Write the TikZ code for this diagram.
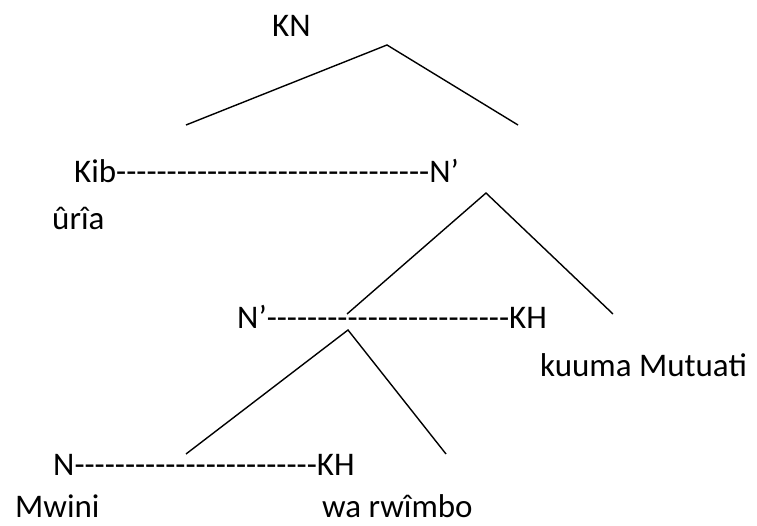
\documentclass[tikz,border=0pt]{standalone}
\usepackage{fontspec}
\setmainfont{Carlito}[Ligatures=TeXOff]
\usepackage{tikz}

\begin{document}
\begin{tikzpicture}[x=1pt, y=-1pt, word/.style={anchor=base west, inner sep=0pt, font=\fontsize{33}{39}\selectfont}, branch/.style={line width=1.4pt}]
\useasboundingbox (0,0) rectangle (757,526);
\node[word] (KN) at (272,37) {KN};
\node[word] (Kib) at (74,183) {Kib-------------------------------N’};
\node[word] (uria) at (52,230) {ûrîa};
\node[word] (Nbar) at (237,328) {N’------------------------KH};
\node[word] (kuuma) at (540,376) {kuuma Mutuati};
\node[word] (N) at (53,475) {N------------------------KH};
\node[word] (Mwini) at (15,517) {Mwini};
\node[word] (warwimbo) at (322,517) {wa rwîmbo};

\coordinate (top) at (387,45);
\coordinate (topL) at (186,125);
\coordinate (topR) at (518,125);
\coordinate (mid) at (486,193);
\coordinate (midL) at (347,314);
\coordinate (midR) at (613,314);
\coordinate (low) at (348,330);
\coordinate (lowL) at (186,454);
\coordinate (lowR) at (446,454);

\draw[branch] (topL) -- (top) -- (topR);
\draw[branch] (midL) -- (mid) -- (midR);
\draw[branch] (lowL) -- (low) -- (lowR);

\end{tikzpicture}
\end{document}
